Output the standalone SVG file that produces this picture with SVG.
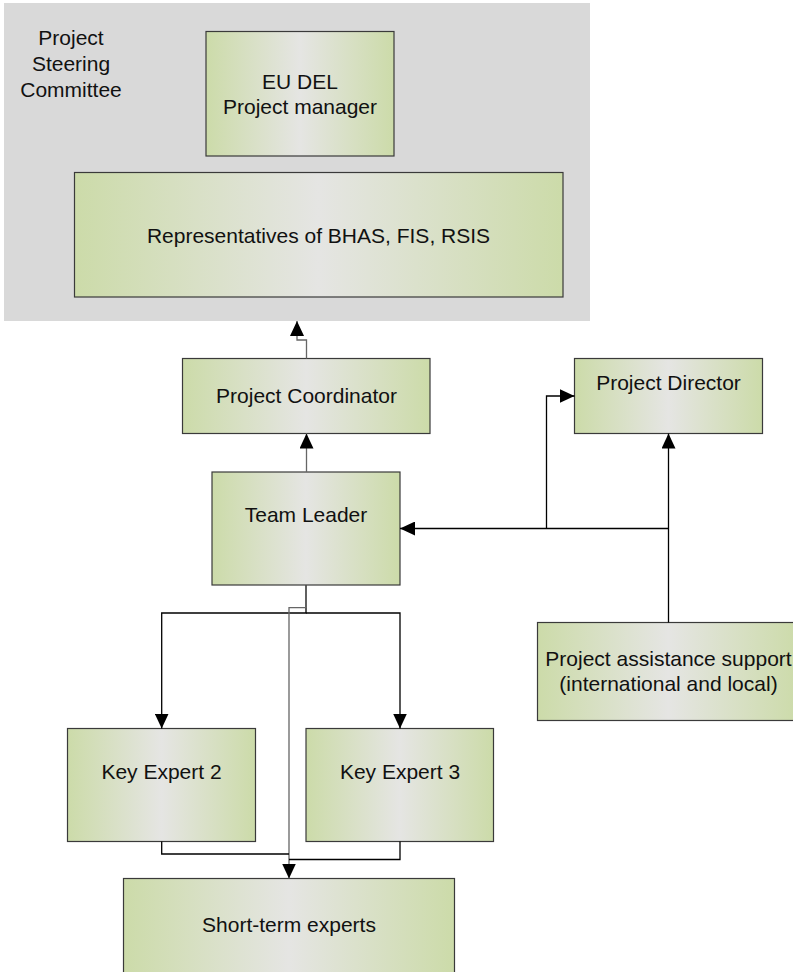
<svg xmlns="http://www.w3.org/2000/svg" width="793" height="972" viewBox="0 0 793 972">
<defs>
<linearGradient id="g" x1="0" y1="0" x2="1" y2="0">
<stop offset="0" stop-color="#ccdba9"/>
<stop offset="0.5" stop-color="#e5e5e3"/>
<stop offset="1" stop-color="#ccdba9"/>
</linearGradient>
<marker id="ah" markerWidth="15" markerHeight="14" refX="15" refY="7" orient="auto" markerUnits="userSpaceOnUse">
<path d="M0,0 L15,7 L0,14 Z" fill="#000"/>
</marker>
</defs>
<style>
.box{fill:url(#g);stroke:#3a3a3a;stroke-width:1.2}
.t{font-family:"Liberation Sans",Arial,sans-serif;font-size:21px;fill:#111;text-anchor:middle}
.c{fill:none;stroke:#000;stroke-width:1.3}
.cg{fill:none;stroke:#666;stroke-width:1.3}
</style>
<g id="steering-committee">
<rect x="4" y="3" width="586" height="318" fill="#d9d9d9"/>
<text class="t" x="71" y="45">Project</text>
<text class="t" x="71" y="71">Steering</text>
<text class="t" x="71" y="97">Committee</text>
</g>
<g id="eu-del">
<rect class="box" x="206" y="31.5" width="188" height="124.5"/>
<text class="t" x="300" y="89">EU DEL</text>
<text class="t" x="300" y="114">Project manager</text>
</g>
<g id="representatives">
<rect class="box" x="74.5" y="172.5" width="488.5" height="124.5"/>
<text class="t" x="318.5" y="243">Representatives of BHAS, FIS, RSIS</text>
</g>
<g id="project-coordinator">
<rect class="box" x="182.5" y="358.5" width="247.5" height="75"/>
<text class="t" x="306.5" y="403">Project Coordinator</text>
</g>
<g id="project-director">
<rect class="box" x="574.5" y="358.5" width="188" height="75"/>
<text class="t" x="668.5" y="390">Project Director</text>
</g>
<g id="team-leader">
<rect class="box" x="212" y="472" width="188" height="113"/>
<text class="t" x="306" y="522">Team Leader</text>
</g>
<g id="project-assistance">
<rect class="box" x="537.5" y="622.5" width="262" height="98"/>
<text class="t" x="668.5" y="666">Project assistance support</text>
<text class="t" x="668.5" y="691">(international and local)</text>
</g>
<g id="key-expert-2">
<rect class="box" x="67.5" y="728.5" width="188" height="113"/>
<text class="t" x="161.5" y="779">Key Expert 2</text>
</g>
<g id="key-expert-3">
<rect class="box" x="306" y="728.5" width="187.5" height="113"/>
<text class="t" x="400" y="779">Key Expert 3</text>
</g>
<g id="short-term-experts">
<rect class="box" x="123.5" y="878.5" width="331" height="120"/>
<text class="t" x="289" y="932">Short-term experts</text>
</g>
<g id="connectors">
<path class="cg" d="M306.5,358.5 V340 H297 V321" marker-end="url(#ah)"/>
<path class="cg" d="M306.5,472 V433.5" marker-end="url(#ah)"/>
<path class="c" d="M668.5,622.5 V433.5" marker-end="url(#ah)"/>
<path class="c" d="M668.5,528.5 H400" marker-end="url(#ah)"/>
<path class="c" d="M546.5,528.5 V396 H574.5" marker-end="url(#ah)"/>
<path class="c" d="M306,585 V613 H161.7 V728.5" marker-end="url(#ah)"/>
<path class="c" d="M306,613 H400 V728.5" marker-end="url(#ah)"/>
<path class="cg" d="M306,585 V607.7 H289 V878.5" marker-end="url(#ah)"/>
<path class="c" d="M161.7,841.5 V854 H289"/>
<path class="c" d="M400,841.5 V859.5 H289"/>
</g>
</svg>
